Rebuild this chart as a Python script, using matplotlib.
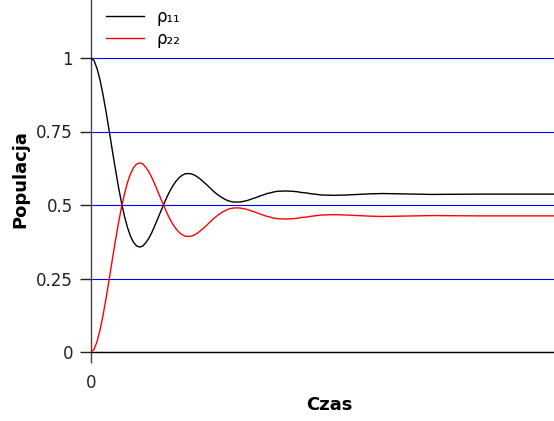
import matplotlib
matplotlib.use("Agg")
import matplotlib.pyplot as plt

# Populations of the two-level system vs. time (damped Rabi oscillations)
czas = [0.0000, 0.0625, 0.1250, 0.1875, 0.2500, 0.3125, 0.3750, 0.4375,
        0.5000, 0.5625, 0.6250, 0.6875, 0.7500, 0.8125, 0.8750, 0.9375,
        1.0000, 1.0625, 1.1250, 1.1875, 1.2500, 1.3125, 1.3750, 1.4375,
        1.5000, 1.5625, 1.6250, 1.6875, 1.7500, 1.8125, 1.8750, 1.9375,
        2.0000, 2.0625, 2.1250, 2.1875, 2.2500, 2.3125, 2.3750, 2.4375,
        2.5000, 2.5625, 2.6250, 2.6875, 2.7500, 2.8125, 2.8750, 2.9375,
        3.0000, 3.0625, 3.1250, 3.1875, 3.2500, 3.3125, 3.3750, 3.4375,
        3.5000, 3.5625, 3.6250, 3.6875, 3.7500, 3.8125, 3.8750, 3.9375,
        4.0000, 4.0625, 4.1250, 4.1875, 4.2500, 4.3125, 4.3750, 4.4375,
        4.5000, 4.7500, 5.0000, 5.2500, 5.5000, 5.7500, 6.0000, 7.0000, 8.0000, 9.5300]
rho11 = [1.000, 0.991, 0.964, 0.924, 0.873, 0.815, 0.752, 0.687,
         0.624, 0.564, 0.510, 0.463, 0.424, 0.394, 0.373, 0.361,
         0.357, 0.360, 0.371, 0.386, 0.406, 0.429, 0.454, 0.479,
         0.503, 0.527, 0.548, 0.566, 0.581, 0.593, 0.601, 0.606,
         0.607, 0.606, 0.602, 0.596, 0.588, 0.579, 0.570, 0.560,
         0.550, 0.541, 0.533, 0.526, 0.520, 0.515, 0.512, 0.510,
         0.510, 0.510, 0.512, 0.514, 0.517, 0.521, 0.524, 0.528,
         0.532, 0.535, 0.539, 0.541, 0.544, 0.546, 0.547, 0.547,
         0.548, 0.547, 0.547, 0.546, 0.545, 0.543, 0.542, 0.541,
         0.539, 0.534, 0.533, 0.534, 0.536, 0.538, 0.539, 0.536, 0.537, 0.537]
rho22 = [0.000, 0.009, 0.036, 0.076, 0.127, 0.185, 0.248, 0.313,
         0.376, 0.436, 0.490, 0.537, 0.576, 0.606, 0.627, 0.639,
         0.643, 0.640, 0.629, 0.614, 0.594, 0.571, 0.546, 0.521,
         0.497, 0.473, 0.452, 0.434, 0.419, 0.407, 0.399, 0.394,
         0.393, 0.394, 0.398, 0.404, 0.412, 0.421, 0.430, 0.440,
         0.450, 0.459, 0.467, 0.474, 0.480, 0.485, 0.488, 0.490,
         0.490, 0.490, 0.488, 0.486, 0.483, 0.479, 0.476, 0.472,
         0.468, 0.465, 0.461, 0.459, 0.456, 0.454, 0.453, 0.453,
         0.452, 0.453, 0.453, 0.454, 0.455, 0.457, 0.458, 0.459,
         0.461, 0.466, 0.467, 0.466, 0.464, 0.462, 0.461, 0.464, 0.463, 0.463]

y_ticks = [0, 0.25, 0.5, 0.75, 1]
y_labels = ["0", "0.25", "0.5", "0.75", "1"]
x_ticks = [0]
x_labels = ["0"]

W, H = 554, 421
fig = plt.figure(figsize=(W / 100, H / 100), dpi=100)
ax = fig.add_axes([91 / W, 69 / H, 1 - 91 / W, 1 - 69 / H])

ax.plot(czas, rho11, color="black", lw=1.0, label="ρ₁₁", zorder=3)
ax.plot(czas, rho22, color="red", lw=1.0, label="ρ₂₂", zorder=3)

ax.set_xlim(0, 9.53)
ax.set_ylim(0, 352 / 294)
ax.set_yticks(y_ticks)
ax.set_yticklabels(y_labels)
ax.set_xticks(x_ticks)
ax.set_xticklabels(x_labels)

ax.yaxis.grid(True, color="blue", lw=0.8)
ax.set_axisbelow(True)

for side in ("top", "right"):
    ax.spines[side].set_visible(False)
ax.spines["left"].set_color("#444444")
ax.spines["left"].set_linewidth(1.0)
ax.spines["bottom"].set_color("black")
ax.spines["bottom"].set_linewidth(1.0)

ax.tick_params(axis="y", direction="out", length=8, width=1, color="#222222",
               labelsize=12, labelcolor="#222222", pad=5)
ax.tick_params(axis="x", direction="out", length=8, width=1, color="#444444",
               labelsize=12, labelcolor="#222222", pad=8)

ax.set_xlabel("Czas", fontsize=13, fontweight="bold")
ax.xaxis.set_label_coords((329 - 91) / (W - 91), -(405 - 352) / 352)
ax.xaxis.label.set_verticalalignment("center")
ax.set_ylabel("Populacja", fontsize=13, fontweight="bold")
ax.yaxis.set_label_coords(-(91 - 20.5) / (W - 91), (352 - 179.5) / 352)
ax.yaxis.label.set_verticalalignment("center")

ax.legend(loc="upper left", bbox_to_anchor=(106 / W, 1 - 8 / H),
          bbox_transform=fig.transFigure, frameon=False, fontsize=12,
          handlelength=2.3, handletextpad=0.7, labelspacing=0.25,
          borderpad=0, borderaxespad=0)

fig.savefig("out.png", dpi=100)
